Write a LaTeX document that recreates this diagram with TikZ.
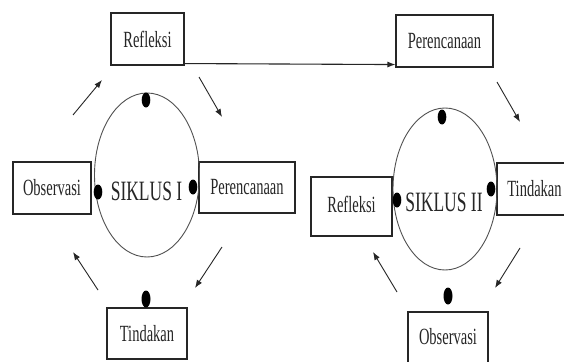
\documentclass[tikz,border=0pt]{standalone}
\usepackage{fontspec}
\setmainfont{Liberation Serif}
\usetikzlibrary{arrows.meta}
\newcommand\tallt[1]{\scalebox{1}[1.6]{#1}}
\definecolor{ink}{HTML}{262626}
\tikzset{
  x=1pt,y=-1pt,
  boxnode/.style={draw=ink,line width=1.1pt,inner sep=0pt,text=ink,
    font=\fontsize{14.5}{16}\selectfont},
  cyc/.style={draw=ink!80,line width=0.9pt},
  flow/.style={draw=ink,line width=0.9pt,-{Latex[length=8pt,width=6pt]}},
  cyclabel/.style={text=ink,inner sep=0pt,font=\fontsize{17.5}{19}\selectfont}
}
\begin{document}
\begin{tikzpicture}
\clip (0,0) rectangle (564,361);
\fill[white] (0,0) rectangle (564,361);
% cycle I
\node[boxnode,minimum width=73pt,minimum height=52pt] (R1) at (147.5,39) {\tallt{Refleksi}};
\node[boxnode,minimum width=96pt,minimum height=51pt] (P1) at (247,187.5) {\tallt{Perencanaan}};
\node[boxnode,minimum width=78pt,minimum height=52pt] (O1) at (52,188) {\tallt{Observasi}};
\node[boxnode,minimum width=80pt,minimum height=51pt] (T1) at (147,333.5) {\tallt{Tindakan}};
\draw[cyc] (147,175) ellipse [x radius=52.5, y radius=82];
\node[cyclabel] (S1) at (146.5,191) {\tallt{SIKLUS I}};
\fill (146,100) ellipse [x radius=4.3, y radius=7.5];
\fill (98,192) ellipse [x radius=4.3, y radius=7.5];
\fill (193,187) ellipse [x radius=4.3, y radius=7.5];
\fill (146,299) ellipse [x radius=4.5, y radius=8.5];
\coordinate (a1s) at (73,115); \coordinate (a1e) at (102,80);
\coordinate (a2s) at (199,77); \coordinate (a2e) at (222,117);
\coordinate (a3s) at (222,247); \coordinate (a3e) at (195,288);
\coordinate (a4s) at (98,290); \coordinate (a4e) at (73,252);
\draw[flow] (a1s) -- (a1e);
\draw[flow] (a2s) -- (a2e);
\draw[flow] (a3s) -- (a3e);
\draw[flow] (a4s) -- (a4e);
% cycle II
\node[boxnode,minimum width=97pt,minimum height=52pt] (P2) at (444.5,41) {\tallt{Perencanaan}};
\node[boxnode,minimum width=81pt,minimum height=59pt] (R2) at (351.5,206.5) {\raisebox{5pt}{\tallt{Refleksi}}};
\node[boxnode,minimum width=75pt,minimum height=52pt] (T2) at (534.5,189) {\tallt{Tindakan}};
\node[boxnode,minimum width=80pt,minimum height=52pt] (O2) at (448,338) {\raisebox{3pt}{\tallt{Observasi}}};
\draw[cyc] (445,189) ellipse [x radius=52, y radius=81];
\node[cyclabel] (S2) at (444,202) {\tallt{SIKLUS II}};
\fill (442,117) ellipse [x radius=4.3, y radius=7.5];
\fill (397,200) ellipse [x radius=4.3, y radius=7.5];
\fill (491,189) ellipse [x radius=4.3, y radius=7.5];
\fill (448,296) ellipse [x radius=4.5, y radius=8.5];
\coordinate (b1s) at (497,82); \coordinate (b1e) at (520,122);
\coordinate (b2s) at (520,248); \coordinate (b2e) at (495,288);
\coordinate (b3s) at (397,292); \coordinate (b3e) at (373,252);
\draw[flow] (b1s) -- (b1e);
\draw[flow] (b2s) -- (b2e);
\draw[flow] (b3s) -- (b3e);
% link
\draw[flow,line width=1.1pt] ([yshift=2pt]R1.south east) -- ([yshift=3pt]P2.south west);
\end{tikzpicture}
\end{document}
